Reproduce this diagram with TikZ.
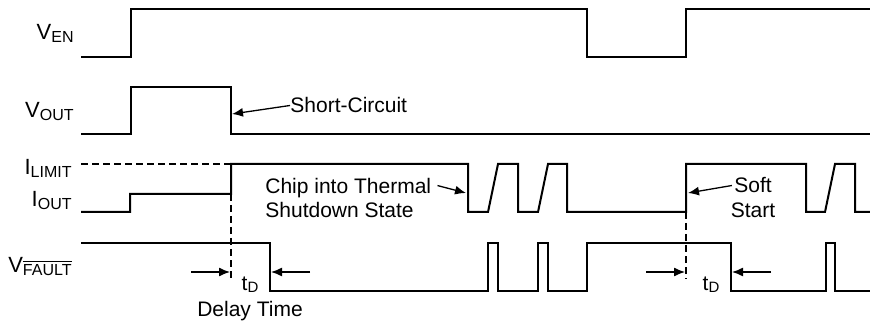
\documentclass[tikz,border=0pt]{standalone}
\usepackage{fontspec}
\setmainfont{Liberation Sans}
\usetikzlibrary{arrows.meta}
\newcommand{\lsub}[1]{\raisebox{-1.5pt}{\fontsize{8}{8}\selectfont #1}}
\newcommand{\tsub}[1]{\raisebox{-1.5pt}{\fontsize{7.5}{8}\selectfont #1}}
\begin{document}
\begin{tikzpicture}[x=0.5pt,y=-0.5pt,
  wave/.style={line width=1pt, line join=miter},
  dsh/.style={line width=1pt, dash pattern=on 3.5pt off 2pt},
  arr/.style={line width=0.65pt,-{Latex[length=5.5pt,width=4.5pt]}},
  lbl/.style={font=\fontsize{11}{13}\selectfont, inner sep=0pt, anchor=base east},
  txt/.style={font=\fontsize{10.5}{12.5}\selectfont, inner sep=0pt}]
\useasboundingbox (0,0) rectangle (870,325);

% signal labels
\node[lbl] (len) at (74,40) {V\lsub{EN}};
\node[lbl] (lout) at (74,118) {V\lsub{OUT}};
\node[lbl] (llim) at (72,175) {I\lsub{LIMIT}};
\node[lbl] (liout) at (72,207) {I\lsub{OUT}};
\node[lbl] (lflt) at (72,272) {V\lsub{$\overline{\hbox{FAULT}}$}};

% waveforms
\draw[wave] (81,57) -- (131,57) -- (131,9) -- (587,9) -- (587,57) -- (686,57) -- (686,9) -- (870,9);
\draw[wave] (81,134) -- (131,134) -- (131,87) -- (231,87) -- (231,134) -- (870,134);
\draw[wave] (81,212) -- (130,212) -- (130,194) -- (231,194) -- (231,164) -- (468,164) -- (468,212)
  -- (488,212) -- (498,164) -- (518,164) -- (518,212) -- (538,212) -- (548,164) -- (567,164)
  -- (567,212) -- (686,212) -- (686,164) -- (806,164) -- (806,212) -- (825,212) -- (835,164)
  -- (855,164) -- (855,212) -- (870,212);
\draw[dsh] (81,164) -- (231,164);
\draw[wave] (81,243) -- (270,243) -- (270,291) -- (488,291) -- (488,243) -- (498,243) -- (498,291)
  -- (538,291) -- (538,243) -- (548,243) -- (548,291) -- (587,291) -- (587,243) -- (731,243)
  -- (731,291) -- (826,291) -- (826,243) -- (835,243) -- (835,291) -- (870,291);

% dashed markers
\draw[dsh] (231,194) -- (231,279);
\draw[dsh] (686,212) -- (686,279);

% delay arrows
\coordinate (a1s) at (191,272); \coordinate (a1e) at (230,272);
\coordinate (b1s) at (310,272); \coordinate (b1e) at (271,272);
\coordinate (a2s) at (646,272); \coordinate (a2e) at (685,272);
\coordinate (b2s) at (771,272); \coordinate (b2e) at (732,272);
\draw[arr] (a1s) -- (a1e);
\draw[arr] (b1s) -- (b1e);
\draw[arr] (a2s) -- (a2e);
\draw[arr] (b2s) -- (b2e);

\node[txt, anchor=base] (td1) at (250,290) {t\tsub{D}};
\node[txt, anchor=base] (dt) at (250,316) {Delay Time};
\node[txt, anchor=base] (td2) at (711,290) {t\tsub{D}};

% annotations
\node[txt, anchor=base west] (sc) at (290,113) {Short-Circuit};
\coordinate (sct) at (232,114);
\draw[arr] (sc.west) -- (sct);

\node[txt, anchor=base west] (chip1) at (265,194) {Chip into Thermal};
\node[txt, anchor=base west] (chip2) at (265,218) {Shutdown State};
\coordinate (chipt) at (466,193);
\draw[arr] ([xshift=3pt,yshift=1.5pt]chip1.east) -- (chipt);

\node[txt, anchor=base] (soft) at (753,193) {Soft};
\node[txt, anchor=base] (start) at (753,218) {Start};
\coordinate (softt) at (688,193);
\draw[arr] ([xshift=-1pt]soft.west) -- (softt);
\end{tikzpicture}
\end{document}
